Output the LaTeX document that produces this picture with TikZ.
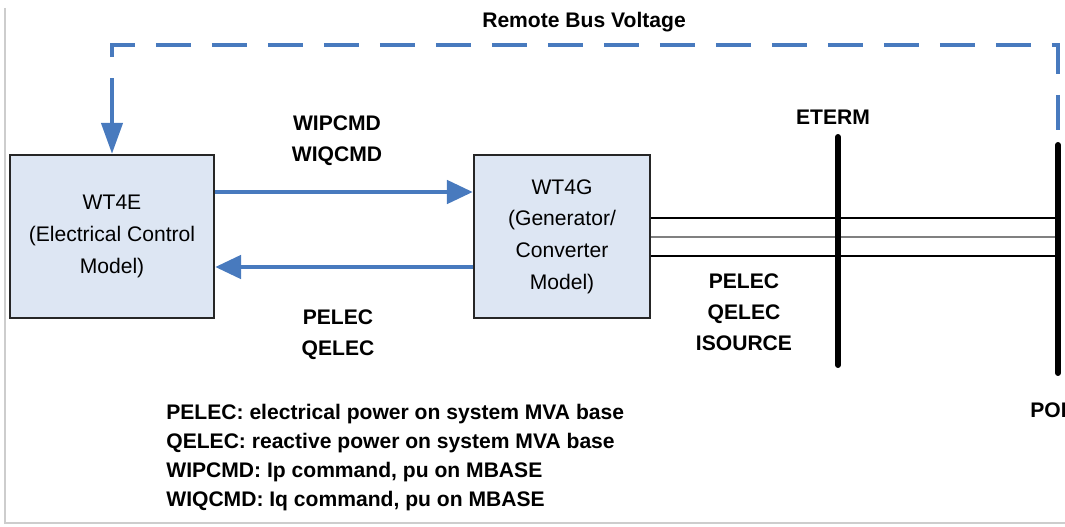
\documentclass[tikz,border=0pt]{standalone}
\usepackage{fontspec}
\setmainfont{Liberation Sans}
\usepackage{xcolor}
\definecolor{wtblue}{RGB}{72,122,190}
\definecolor{wtfill}{RGB}{221,230,243}
\definecolor{wtgray}{RGB}{128,128,128}
\definecolor{wtframe}{RGB}{205,205,205}
\usetikzlibrary{arrows.meta, calc}

\begin{document}
\begin{tikzpicture}[x=0.02cm, y=-0.02cm,
  model/.style={draw=black!85, line width=1.3pt, fill=wtfill, align=center,
                inner sep=0pt, font=\fontsize{12}{18}\selectfont},
  sig/.style={wtblue, line width=2.8pt, -{Triangle[length=0.52cm, width=0.46cm]}},
  fb/.style={wtblue, line width=2.4pt, dash pattern=on 0.7cm off 0.42cm, dash phase=0.62cm},
  fbtip/.style={wtblue, line width=2.4pt, -{Triangle[length=0.62cm, width=0.42cm]}},
  bus/.style={line width=3.4pt, line cap=round},
  lbl/.style={font=\bfseries\fontsize{12}{17.5}\selectfont, align=center, inner sep=0pt},
  legend/.style={font=\bfseries\fontsize{12}{14}\selectfont, inner sep=0pt}]
  \useasboundingbox (0,0) rectangle (1065,527);

  % Frame edges
  \draw[wtframe, line width=0.6pt] (5,8) -- (5,523) -- (1065,523);

  % Models
  \node[model, minimum width=4.08cm, minimum height=3.26cm] (wte) at (112,236.5)
       {WT4E\\(Electrical Control\\Model)};
  \node[model, minimum width=3.52cm, minimum height=3.26cm] (wtg) at (562,236.5)
       {WT4G\\(Generator/\\Converter\\Model)};

  % Buses
  \coordinate (ettop) at (838,137);
  \coordinate (etbot) at (838,365);
  \coordinate (poitop) at (1058,145);
  \coordinate (poibot) at (1058,373);

  % Network lines WT4G -> POI
  \foreach \yy/\cc/\ww in {218/black/0.8pt, 237/wtgray/1.2pt, 256/black/0.8pt}
    \draw[\cc, line width=\ww] (wtg.east |- 0,\yy) -- (poitop |- 0,\yy);

  \draw[bus] (ettop) -- (etbot);
  \draw[bus] (poitop) -- (poibot);

  % Signals between the models
  \draw[sig] (wte.east |- 0,192) -- (wtg.west |- 0,192);
  \draw[sig] (wtg.west |- 0,267) -- (wte.east |- 0,267);

  % Remote bus voltage feedback
  \coordinate (fbend) at (112,82);
  \draw[fb] (fbend) |- (poitop |- 0,45) -- (poitop);
  \draw[fbtip] (fbend) -- (wte.north);

  % Labels
  \node[lbl] (rbv) at (584,22) {Remote Bus Voltage};
  \node[lbl] (cmd) at (337,141) {WIPCMD\\WIQCMD};
  \node[lbl] (fbk) at (338,335) {PELEC\\QELEC};
  \node[lbl] (out) at (744,312) {PELEC\\QELEC\\ISOURCE};
  \node[lbl] (eterm) at (833,117) {ETERM};
  \node[lbl, anchor=west] (poi) at (1030,410) {POI};

  % Legend
  \foreach \txt [count=\i] in {{PELEC: electrical power on system MVA base},
                               {QELEC: reactive power on system MVA base},
                               {WIPCMD: Ip command, pu on MBASE},
                               {WIQCMD: Iq command, pu on MBASE}}
    \node[legend, anchor=base west] (leg\i) at (166,390+29*\i) {\txt};
\end{tikzpicture}
\end{document}
